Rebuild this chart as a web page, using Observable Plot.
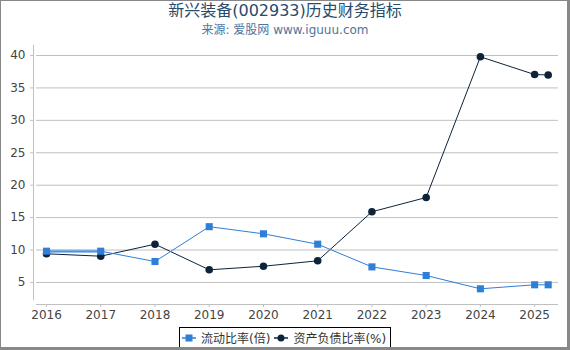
<!DOCTYPE html>
<html>
<head>
<meta charset="utf-8">
<script src="https://cdn.jsdelivr.net/npm/d3@7"></script>
<script src="https://cdn.jsdelivr.net/npm/@observablehq/plot@0.6"></script>
<style>
  html, body { margin: 0; padding: 0; background: #fff; }
  #wrap { position: relative; width: 570px; height: 350px; overflow: hidden; background: #fff; }
  #frame { position: absolute; left: 0; top: 0; width: 570px; height: 350px; box-sizing: border-box;
    border-top: 1px solid #888; border-left: 1px solid #888; border-right: 3px solid #888; border-bottom: 3px solid #888; pointer-events: none; }
  #title { position: absolute; left: 0; top: 1px; width: 570px; text-align: center;
    font: 16px "DejaVu Sans", "Noto Sans CJK SC", sans-serif; color: #274b6d; line-height: 20px; }
  #subtitle { position: absolute; left: 0; top: 22px; width: 570px; text-align: center;
    font: 12px "DejaVu Sans", "Noto Sans CJK SC", sans-serif; color: #4d759e; line-height: 16px; }
  #chart { position: absolute; left: 0; top: 40px; }
  #chart svg text { font-family: "DejaVu Sans", sans-serif; }
  #legend { position: absolute; left: 179px; top: 327px; width: 212px; height: 21px; box-sizing: border-box;
    border: 1px solid #000; display: flex; align-items: center; padding-left: 2px;
    font: 12px "DejaVu Sans", "Noto Sans CJK SC", sans-serif; color: #333; white-space: nowrap; }
  #legend .item { display: flex; align-items: center; margin-right: 4px; }
  #legend svg { margin-right: 5px; }
</style>
</head>
<body>
<div id="wrap">
  <div id="title"></div>
  <div id="subtitle"></div>
  <div id="chart"></div>
  <div id="legend"></div>
  <div id="frame"></div>
</div>
<script>
const titleText = "新兴装备(002933)历史财务指标";
const subtitleText = "来源: 爱股网 www.iguuu.com";
const seriesNames = ["流动比率(倍)", "资产负债比率(%)"];
const seriesColors = ["#2f7ed8", "#0d233a"];
const xPositions = [2016, 2017, 2018, 2019, 2020, 2021, 2022, 2023, 2024, 2025, 2025.25];
const currentRatio = [9.82, 9.82, 8.23, 13.6, 12.5, 10.9, 7.4, 6.07, 4.02, 4.64, 4.64];
const debtRatio = [9.42, 9.05, 10.9, 6.95, 7.5, 8.34, 15.9, 18.1, 39.8, 37.06, 37.0];
const xTicks = [2016, 2017, 2018, 2019, 2020, 2021, 2022, 2023, 2024, 2025];
const yTicks = [5, 10, 15, 20, 25, 30, 35, 40];

document.getElementById("title").textContent = titleText;
document.getElementById("subtitle").textContent = subtitleText;

const cur = xPositions.map((x, i) => ({x, v: currentRatio[i]}));
const debt = xPositions.map((x, i) => ({x, v: debtRatio[i]}));

const xMin = 2015.76, xMax = 2025.44;
const yMin = 1.6, yMax = 41.54;
const grid = "#c0c0c0";
const font = "DejaVu Sans, sans-serif";

const chart = Plot.plot({
  width: 570,
  height: 284,
  marginLeft: 33,
  marginRight: 12,
  marginTop: 5,
  marginBottom: 20,
  style: {fontFamily: font, fontSize: "12px", color: "#444", background: "transparent"},
  x: {domain: [xMin, xMax], axis: null},
  y: {domain: [yMin, yMax], axis: null},
  marks: [
    Plot.ruleY(yTicks, {x1: 2015.815, x2: xMax, stroke: grid, strokeWidth: 1}),
    Plot.ruleX([xMin], {y1: 2.22, y2: yMax, stroke: grid}),
    Plot.ruleY([yMin], {x1: 2015.815, x2: xMax, stroke: grid}),
    Plot.axisY({ticks: yTicks, tickSize: 3, tickPadding: 5, stroke: grid, fill: "#444", tickFormat: d => String(d), fontSize: 12, fontFamily: font, label: null}),
    Plot.axisX({ticks: xTicks, tickSize: 3, tickPadding: 3, stroke: grid, fill: "#444", tickFormat: d => String(d), fontSize: 12, fontFamily: font, label: null}),
    Plot.line(debt, {x: "x", y: "v", stroke: seriesColors[1], strokeWidth: 1}),
    Plot.dot(debt, {x: "x", y: "v", r: 3.8, fill: seriesColors[1], stroke: "none"}),
    Plot.line(cur.slice(0, 2), {x: "x", y: "v", stroke: "#9cc0ee", strokeWidth: 3.5}),
    Plot.line(cur, {x: "x", y: "v", stroke: seriesColors[0], strokeWidth: 1}),
    Plot.dot(cur, {x: "x", y: "v", r: 4, symbol: "square", fill: seriesColors[0], stroke: "none"})
  ]
});
document.getElementById("chart").appendChild(chart);

const legend = document.getElementById("legend");
seriesNames.forEach((name, i) => {
  const item = document.createElement("div");
  item.className = "item";
  const sym = i === 0
    ? `<svg width="14" height="10"><line x1="0" y1="5" x2="14" y2="5" stroke="${seriesColors[0]}" stroke-width="1.5"/><rect x="3.5" y="1.5" width="7" height="7" fill="${seriesColors[0]}"/></svg>`
    : `<svg width="14" height="10"><line x1="0" y1="5" x2="14" y2="5" stroke="${seriesColors[1]}" stroke-width="1.5"/><circle cx="7" cy="5" r="3.5" fill="${seriesColors[1]}"/></svg>`;
  item.innerHTML = sym + `<span>${name}</span>`;
  legend.appendChild(item);
});
</script>
</body>
</html>
